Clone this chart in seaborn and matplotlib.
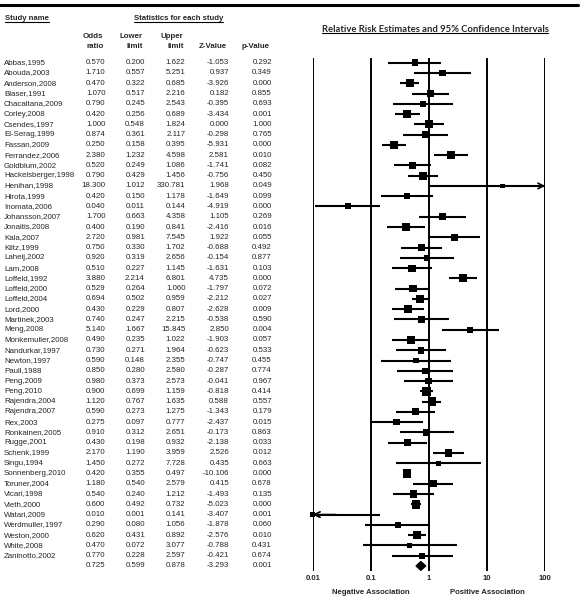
import numpy as np
import pandas as pd
import matplotlib
matplotlib.use("Agg")
import matplotlib.pyplot as plt
from matplotlib.lines import Line2D
from matplotlib.ticker import NullLocator
import seaborn as sns


# ===============================
# DATA
# ===============================

studies = [
    "Abbas,1995", "Abouda,2003", "Anderson,2008", "Blaser,1991", "Chacaltana,2009",
    "Corley,2008", "Csendes,1997", "El-Serag,1999", "Fassan,2009", "Ferrandez,2006",
    "Goldblum,2002", "Hackelsberger,1998", "Henihan,1998", "Hirota,1999", "Inomata,2006",
    "Johansson,2007", "Jonaitis,2008", "Kala,2007", "Kiltz,1999", "Laheij,2002",
    "Lam,2008", "Loffeld,1992", "Loffeld,2000", "Loffeld,2004", "Lord,2000",
    "Martinek,2003", "Meng,2008", "Monkemuller,2008", "Nandurkar,1997", "Newton,1997",
    "Paull,1988", "Peng,2009", "Peng,2010", "Rajendra,2004", "Rajendra,2007",
    "Rex,2003", "Ronkainen,2005", "Rugge,2001", "Schenk,1999", "Singu,1994",
    "Sonnenberg,2010", "Toruner,2004", "Vicari,1998", "Vieth,2000", "Watari,2009",
    "Werdmuller,1997", "Weston,2000", "White,2008", "Zaninotto,2002",
]
odds = [
    0.570, 1.710, 0.470, 1.070, 0.790, 0.420, 1.000, 0.874, 0.250, 2.380,
    0.520, 0.790, 18.300, 0.420, 0.040, 1.700, 0.400, 2.720, 0.750, 0.920,
    0.510, 3.880, 0.529, 0.694, 0.430, 0.740, 5.140, 0.490, 0.730, 0.590,
    0.850, 0.980, 0.900, 1.120, 0.590, 0.275, 0.910, 0.430, 2.170, 1.450,
    0.420, 1.180, 0.540, 0.600, 0.010, 0.290, 0.620, 0.470, 0.770,
]
lower = [
    0.200, 0.557, 0.322, 0.517, 0.245, 0.256, 0.548, 0.361, 0.158, 1.232,
    0.249, 0.429, 1.012, 0.150, 0.011, 0.663, 0.190, 0.981, 0.330, 0.319,
    0.227, 2.214, 0.264, 0.502, 0.229, 0.247, 1.667, 0.235, 0.271, 0.148,
    0.280, 0.373, 0.699, 0.767, 0.273, 0.097, 0.312, 0.198, 1.190, 0.272,
    0.355, 0.540, 0.240, 0.492, 0.001, 0.080, 0.431, 0.072, 0.228,
]
upper = [
    1.622, 5.251, 0.685, 2.216, 2.543, 0.689, 1.824, 2.117, 0.395, 4.598,
    1.086, 1.456, 330.781, 1.178, 0.144, 4.358, 0.841, 7.545, 1.702, 2.656,
    1.145, 6.801, 1.060, 0.959, 0.807, 2.215, 15.845, 1.022, 1.964, 2.355,
    2.580, 2.573, 1.159, 1.635, 1.275, 0.777, 2.651, 0.932, 3.959, 7.728,
    0.497, 2.579, 1.212, 0.732, 0.141, 1.056, 0.892, 3.077, 2.597,
]
zval = [
    -1.053, 0.937, -3.926, 0.182, -0.395, -3.434, 0.000, -0.298, -5.931, 2.581,
    -1.741, -0.756, 1.968, -1.649, -4.919, 1.105, -2.416, 1.922, -0.688, -0.154,
    -1.631, 4.735, -1.797, -2.212, -2.628, -0.538, 2.850, -1.903, -0.623, -0.747,
    -0.287, -0.041, -0.818, 0.588, -1.343, -2.437, -0.173, -2.138, 2.526, 0.435,
    -10.106, 0.415, -1.493, -5.023, -3.407, -1.878, -2.576, -0.788, -0.421,
]
pval = [
    0.292, 0.349, 0.000, 0.855, 0.693, 0.001, 1.000, 0.765, 0.000, 0.010,
    0.082, 0.450, 0.049, 0.099, 0.000, 0.269, 0.016, 0.055, 0.492, 0.877,
    0.103, 0.000, 0.072, 0.027, 0.009, 0.590, 0.004, 0.057, 0.533, 0.455,
    0.774, 0.967, 0.414, 0.557, 0.179, 0.015, 0.863, 0.033, 0.012, 0.663,
    0.000, 0.678, 0.135, 0.000, 0.001, 0.060, 0.010, 0.431, 0.674,
]

pooled_or = 0.725
pooled_lower = 0.599
pooled_upper = 0.878
pooled_z = -3.293
pooled_p = 0.001

axis_ticks = [0.01, 0.1, 1, 10, 100]
axis_labels = ["0.01", "0.1", "1", "10", "100"]


# ===============================
# LAYOUT (pixels)
# ===============================

W, H = 583, 601
y0, dy = 62.7, 10.27
n_rows = len(studies) + 1
top_px = y0 - 0.5 * dy
bot_px = y0 + (n_rows - 0.5) * dy

def fx(px):
    return px / W

def fy(py):
    return 1 - py / H

def row(py):
    return (py - y0) / dy


sns.set_style("white")
plt.rcParams['font.family'] = ['Liberation Sans', 'DejaVu Sans']

fig = plt.figure(figsize=(W / 100, H / 100), dpi=100)
fig.patch.set_facecolor("white")

# top rule
fig.add_artist(Line2D([0, fx(578)], [fy(5), fy(5)], color="black", lw=2.2,
                      transform=fig.transFigure))


# ===============================
# TABLE
# ===============================

ax_tab = fig.add_axes([0, fy(bot_px), fx(300), (bot_px - top_px) / H])
ax_tab.set_xlim(0, 300)
ax_tab.set_ylim(n_rows - 0.5, -0.5)
ax_tab.axis("off")

fs = 5.7
col_x = [105.5, 145, 185.5, 229, 272]

underlined = []
t = ax_tab.text(5, row(19), "Study name", fontsize=5.6, fontweight="bold",
                ha="left", va="center")
underlined.append(t)
t = ax_tab.text(178.5, row(19), "Statistics for each study", fontsize=5.6,
                fontweight="bold", ha="center", va="center")
underlined.append(t)

headers = [("Odds", "ratio"), ("Lower", "limit"), ("Upper", "limit"),
           ("", "Z-Value"), ("", "p-Value")]
for x, (h1, h2) in zip(col_x, headers):
    ax_tab.text(x - 2, row(36), h1, fontsize=fs, fontweight="bold", ha="right", va="center")
    ax_tab.text(x - 2, row(46), h2, fontsize=fs, fontweight="bold", ha="right", va="center")

for i, name in enumerate(studies):
    ax_tab.text(4, i, name, fontsize=fs, ha="left", va="center")
    vals = [odds[i], lower[i], upper[i], zval[i], pval[i]]
    for x, v in zip(col_x, vals):
        ax_tab.text(x, i, "%.3f" % v, fontsize=fs, ha="right", va="center")

i_sum = len(studies)
for x, v in zip(col_x, [pooled_or, pooled_lower, pooled_upper, pooled_z, pooled_p]):
    ax_tab.text(x, i_sum, "%.3f" % v, fontsize=fs, ha="right", va="center")


# ===============================
# FOREST PLOT
# ===============================

ax = fig.add_axes([fx(312.7), fy(bot_px), (545.3 - 312.7) / W, (bot_px - top_px) / H])
ax.set_xscale("log")
ax.set_xlim(0.01, 100)
ax.set_ylim(n_rows - 0.5, -0.5)

for v in axis_ticks:
    ax.axvline(v, color="black", lw=1.4, zorder=1)

df = pd.DataFrame({"study": studies, "odds": odds, "lower": lower, "upper": upper})
df["row"] = np.arange(len(df))

# square size from inverse variance weight
se = (np.log(df["upper"]) - np.log(df["lower"])) / 3.92
w = 1 / se ** 2
side_px = np.clip(4.95 + 1.22 * np.log(w), 4.6, 8.5)
df["s"] = (side_px * 0.72) ** 2

lo = df["lower"].clip(lower=0.01)
hi = df["upper"].clip(upper=100)
ax.hlines(df["row"], lo, hi, color="black", lw=1.5, zorder=2, clip_on=False)

for _, r in df.iterrows():
    if r["upper"] > 100:
        ax.annotate("", xy=(100, r["row"]), xytext=(40, r["row"]),
                    arrowprops=dict(arrowstyle="->", lw=1.2, color="black",
                                    shrinkA=0, shrinkB=0),
                    annotation_clip=False)
    if r["lower"] < 0.01:
        ax.annotate("", xy=(0.01, r["row"]), xytext=(0.025, r["row"]),
                    arrowprops=dict(arrowstyle="->", lw=1.2, color="black",
                                    shrinkA=0, shrinkB=0),
                    annotation_clip=False)

sns.scatterplot(data=df, x="odds", y="row", s=df["s"].values, marker="s",
                color="black", edgecolor="black", linewidth=0, ax=ax,
                legend=False, zorder=3, clip_on=False)

# pooled diamond
ax.fill([pooled_lower, pooled_or, pooled_upper, pooled_or],
        [i_sum, i_sum - 0.42, i_sum, i_sum + 0.42], color="black", zorder=3,
        clip_on=False)

for sp in ax.spines.values():
    sp.set_visible(False)
ax.set_xlabel("")
ax.set_ylabel("")
ax.set_yticks([])
ax.set_xticks(axis_ticks)
ax.xaxis.set_minor_locator(NullLocator())
ax.set_xticklabels(axis_labels, fontsize=5.6, fontweight="bold")
ax.tick_params(axis="x", length=0, pad=2.5)

t = fig.text(fx(435), fy(29), "Relative Risk Estimates and 95% Confidence Intervals",
             fontsize=6.8, fontweight="bold", family=["Lato", "DejaVu Sans"],
             ha="center", va="center")
underlined.append(t)

fig.text(fx(370.7), fy(592), "Negative Association", fontsize=5.6,
         fontweight="bold", ha="center", va="center")
fig.text(fx(487.3), fy(592), "Positive Association", fontsize=5.6,
         fontweight="bold", ha="center", va="center")

# underline headers
fig.canvas.draw()
renderer = fig.canvas.get_renderer()
for t in underlined:
    bb = t.get_window_extent(renderer)
    yy = (bb.y0 + 0.8) / H
    fig.add_artist(Line2D([bb.x0 / W, bb.x1 / W], [yy, yy], color="black", lw=0.8,
                          transform=fig.transFigure))

fig.savefig("out.png", dpi=100, facecolor="white")
